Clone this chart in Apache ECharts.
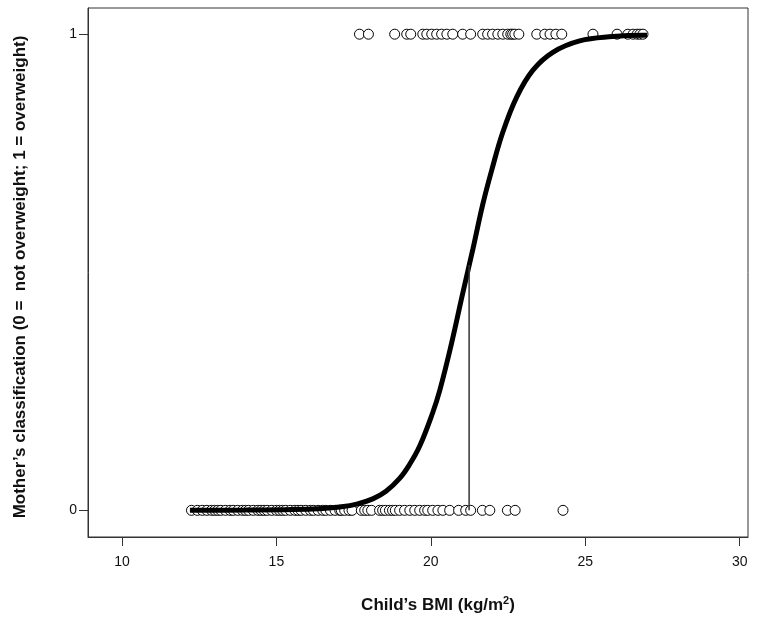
<!DOCTYPE html>
<html>
<head>
<meta charset="utf-8">
<script src="https://cdn.jsdelivr.net/npm/echarts@6/dist/echarts.min.js"></script>
<style>html,body{margin:0;padding:0;background:#fff}#c{width:758px;height:621px}</style>
</head>
<body>
<div id="c"></div>
<script>
// Observed BMI values for mothers classifying child as overweight (y = 1)
const bmiOverweight = [17.69, 17.98, 18.83, 19.22, 19.35, 19.74, 19.87, 20.03, 20.19, 20.35, 20.52, 20.71,
  21.03, 21.29, 21.68, 21.84, 22.00, 22.17, 22.33, 22.49, 22.59, 22.65, 22.72, 22.85,
  23.43, 23.69, 23.86, 24.05, 24.24, 25.25, 26.03, 26.38, 26.55, 26.68, 26.77, 26.87];
// Observed BMI values for mothers classifying child as not overweight (y = 0)
const bmiNotOverweight = [12.25, 12.44, 12.6, 12.75, 12.9, 13.0, 13.1, 13.2, 13.35, 13.5, 13.6, 13.75, 13.9,
  14.0, 14.1, 14.25, 14.4, 14.5, 14.6, 14.7, 14.85, 15.0, 15.1, 15.2, 15.3, 15.45, 15.6, 15.7,
  15.8, 15.95, 16.1, 16.2, 16.35, 16.5, 16.6, 16.75, 16.9, 17.05, 17.1, 17.21, 17.35, 17.45,
  17.75, 17.86, 17.96, 18.08, 18.34, 18.44, 18.53, 18.66, 18.76, 18.85, 18.99, 19.15, 19.32,
  19.48, 19.64, 19.8, 19.9, 20.06, 20.23, 20.39, 20.61, 20.9, 21.13, 21.29, 21.67, 21.91,
  22.48, 22.73, 24.28];
// Fitted logistic curve
const curveX = [12.2, 14.0, 15.5, 16.5, 17.05, 17.6, 18.12, 18.55, 18.99, 19.3, 19.64, 20.06, 20.29, 20.65, 21.03, 21.36, 21.68, 21.97, 22.33, 22.78, 23.3, 23.95, 24.82, 25.89, 26.86, 27.0];
const curveY = [0.0, 0.0005, 0.0015, 0.004, 0.007, 0.013, 0.024, 0.04, 0.067, 0.095, 0.135, 0.205, 0.252, 0.345, 0.455, 0.548, 0.642, 0.714, 0.794, 0.868, 0.924, 0.962, 0.986, 0.995, 0.998, 0.998];
// Drop line at the cut point
const cutX = 21.24;
const cutY = 0.515;
const xTicks = [10, 15, 20, 25, 30];
const yTicks = [0, 1];

const chart = echarts.init(document.getElementById('c'), null, {renderer: 'canvas'});
const font = 'Liberation Sans, Arial, sans-serif';
chart.setOption({
  animation: false,
  backgroundColor: '#fff',
  grid: {left: 88, right: 10, top: 8, bottom: 84, show: true, borderColor: '#333', borderWidth: 1, backgroundColor: 'transparent'},
  xAxis: {
    type: 'value', min: 8.9, max: 30.27,
    axisLine: {show: true, onZero: false, lineStyle: {color: '#333', width: 1}},
    axisTick: {show: true, length: 9, customValues: xTicks, lineStyle: {color: '#333'}},
    axisLabel: {customValues: xTicks, color: '#111', fontSize: 14, fontFamily: font, margin: 18},
    splitLine: {show: false}
  },
  yAxis: {
    type: 'value', min: -0.056, max: 1.055,
    axisLine: {show: true, onZero: false, lineStyle: {color: '#333', width: 1}},
    axisTick: {show: true, length: 9, customValues: yTicks, lineStyle: {color: '#333'}},
    axisLabel: {customValues: yTicks, color: '#111', fontSize: 14, fontFamily: font, margin: 11},
    splitLine: {show: false}
  },
  graphic: [
    {type: 'text', x: 438, y: 605, style: {
      rich: {b: {fontSize: 17, fontWeight: 'bold', fontFamily: font, fill: '#111'},
             s: {fontSize: 11, fontWeight: 'bold', fontFamily: font, fill: '#111', verticalAlign: 'top', padding: [0,0,9,0]}},
      text: '{b|Child\u2019s BMI (kg/m}{s|2}{b|)}', align: 'center', verticalAlign: 'middle', fill: '#111'}},
    {type: 'text', rotation: Math.PI / 2, x: 20, y: 277, style: {
      text: 'Mother\u2019s classification (0 =  not overweight; 1 = overweight)',
      fontSize: 17, fontWeight: 'bold', fontFamily: font, fill: '#111',
      align: 'center', verticalAlign: 'middle'}}
  ],
  series: [
    {type: 'scatter', data: bmiNotOverweight.map(v => [v, 0]), symbol: 'circle', symbolSize: 10,
     itemStyle: {color: '#fff', borderColor: '#000', borderWidth: 1, opacity: 1}, z: 2},
    {type: 'scatter', data: bmiOverweight.map(v => [v, 1]), symbol: 'circle', symbolSize: 10,
     itemStyle: {color: '#fff', borderColor: '#000', borderWidth: 1, opacity: 1}, z: 2},
    {type: 'line', data: curveX.map((x, i) => [x, curveY[i]]), smooth: 0.4, showSymbol: false,
     lineStyle: {color: '#000', width: 5}, z: 3},
    {type: 'line', data: [[cutX, 0], [cutX, cutY]], showSymbol: false,
     lineStyle: {color: '#333', width: 1.5}, z: 4}
  ]
});
</script>
</body>
</html>
